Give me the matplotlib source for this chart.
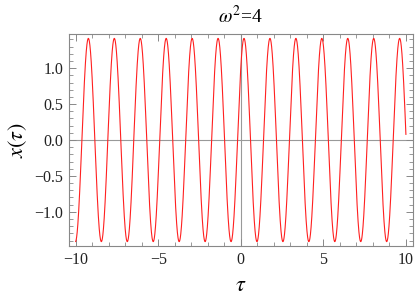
import numpy as np
import matplotlib
matplotlib.use("Agg")
import matplotlib.pyplot as plt
from matplotlib.ticker import MultipleLocator

# curve parameters
amplitude = 1.414   # peak height
omega = 4.0         # 13 peaks across [-10, 10] -> period ~ pi/2
phase = 0.785       # zero crossing just left of tau=0
tau_range = [-10, 10]

title_text = r"$\omega^2$=4"
x_ticks = [-10, -5, 0, 5, 10]
y_ticks = [-1.0, -0.5, 0.0, 0.5, 1.0]

plt.rcParams["font.family"] = ["Liberation Serif", "DejaVu Serif"]
plt.rcParams["mathtext.fontset"] = "stix"

tau = np.linspace(tau_range[0], tau_range[1], 4000)
x = amplitude * np.sin(omega * tau + phase)

fig = plt.figure(figsize=(4.15, 3.02), dpi=100)
ax = fig.add_axes([0.1663, 0.1854, 0.994 - 0.1663, 0.8874 - 0.1854])

frame_grey = "#888888"
ax.axhline(0, color="#999999", lw=0.8, zorder=1)
ax.axvline(0, color="#999999", lw=0.8, zorder=1)
ax.plot(tau, x, color="#ff2020", lw=0.8, zorder=2)

ax.set_xlim(-10.4, 10.4)
ax.set_ylim(-1.475, 1.475)
ax.set_xticks(x_ticks)
ax.set_xticklabels(["\u221210", "\u22125", "0", "5", "10"])
ax.set_yticks(y_ticks)
ax.set_yticklabels(["\u22121.0", "\u22120.5", "0.0", "0.5", "1.0"])
ax.xaxis.set_minor_locator(MultipleLocator(1))
ax.yaxis.set_minor_locator(MultipleLocator(0.1))

for s in ax.spines.values():
    s.set_color(frame_grey)
    s.set_linewidth(0.8)

ax.tick_params(which="both", direction="in", top=True, right=True,
               color=frame_grey, labelsize=11.5, labelcolor="#222222")
ax.tick_params(which="major", length=5, width=0.7, pad=4)
ax.tick_params(which="minor", length=2.8, width=0.6)

ax.set_title(title_text, fontsize=14, pad=8)
ax.set_xlabel(r"$\tau$", fontsize=16, labelpad=7)
ax.set_ylabel(r"$x(\tau)$", fontsize=16, labelpad=4)

fig.savefig("out.png", dpi=100)
